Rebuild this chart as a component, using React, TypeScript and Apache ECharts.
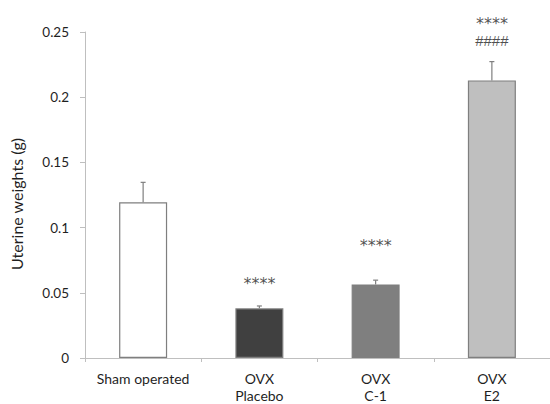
import React, { useEffect, useRef } from "react";
import * as echarts from "echarts";

const categories = ["Sham operated", "OVX\nPlacebo", "OVX\nC-1", "OVX\nE2"];
const meanValues = [0.1194, 0.0381, 0.0564, 0.2129];
const errorValues = [0.0153, 0.0018, 0.0033, 0.0144];
const barColors = ["#ffffff", "#404040", "#7f7f7f", "#bfbfbf"];
const yTickLabels = ["0", "0.05", "0.1", "0.15", "0.2", "0.25"];
const annotationTexts = ["****", "****", "****", "####"];
const annotationCats = [1, 2, 3, 3];
const annotationValues = [0.0568, 0.0866, 0.2566, 0.2435];

export default function App() {
  const ref = useRef<HTMLDivElement>(null);
  useEffect(() => {
    if (!ref.current) return;
    const chart = echarts.init(ref.current, undefined, { renderer: "svg" });
    const font = "Lato, 'Open Sans', sans-serif";
    chart.setOption({
      animation: false,
      backgroundColor: "#ffffff",
      grid: { left: 82, top: 32, width: 472, height: 328 },
      xAxis: {
        type: "category",
        data: categories,
        axisLine: { lineStyle: { color: "#bfbfbf", width: 1 } },
        axisTick: { show: true, interval: 0, length: 4, lineStyle: { color: "#bfbfbf" } },
        axisLabel: {
          interval: 0,
          hideOverlap: false,
          color: "#1f1f1f",
          fontSize: 14,
          fontFamily: font,
          lineHeight: 17,
          margin: 12,
        },
      },
      yAxis: {
        type: "value",
        min: 0,
        max: 0.25,
        interval: 0.05,
        name: "Uterine weights (g)",
        nameLocation: "middle",
        nameGap: 61,
        nameTextStyle: { color: "#1f1f1f", fontSize: 16, fontFamily: font, padding: [0, 18, 0, 0] },
        axisLine: { show: true, lineStyle: { color: "#bfbfbf", width: 1 } },
        axisTick: { show: true, length: 5, lineStyle: { color: "#bfbfbf" } },
        splitLine: { show: false },
        axisLabel: {
          color: "#1f1f1f",
          fontSize: 13.5,
          fontFamily: font,
          margin: 16,
          formatter: (v: number) => yTickLabels[Math.round(v / 0.05)] ?? "",
        },
      },
      series: [
        {
          type: "bar",
          barWidth: 48,
          data: meanValues.map((v, i) => ({
            value: v,
            itemStyle: { color: barColors[i], borderColor: "#7f7f7f", borderWidth: 1.2 },
          })),
        },
        {
          type: "custom",
          data: meanValues.map((v, i) => [i, v, v + errorValues[i]]),
          renderItem: (params: any, api: any) => {
            const x = api.value(0);
            const base = api.coord([x, api.value(1)]);
            const top = api.coord([x, api.value(2)]);
            const style = { stroke: "#7f7f7f", lineWidth: 1.2 };
            return {
              type: "group",
              children: [
                { type: "line", shape: { x1: base[0], y1: base[1], x2: top[0], y2: top[1] }, style },
                { type: "line", shape: { x1: top[0] - 2.5, y1: top[1], x2: top[0] + 2.5, y2: top[1] }, style },
              ],
            };
          },
          z: 3,
        },
        {
          type: "scatter",
          clip: false,
          symbolSize: 0,
          data: annotationTexts.map((t, i) => ({
            value: [annotationCats[i], annotationValues[i]],
            name: t,
            label:
              t === "####"
                ? { fontFamily: "'Liberation Sans', sans-serif", fontSize: 15 }
                : { fontFamily: "'DejaVu Sans', sans-serif", fontSize: 16 },
          })),
          label: {
            show: true,
            position: "inside",
            formatter: (p: any) => p.name,
            color: "#1f1f1f",
          },
        },
      ],
    });
    return () => chart.dispose();
  }, []);
  return <div ref={ref} style={{ position: "fixed", left: 0, top: 0, width: 550, height: 404 }} />;
}
